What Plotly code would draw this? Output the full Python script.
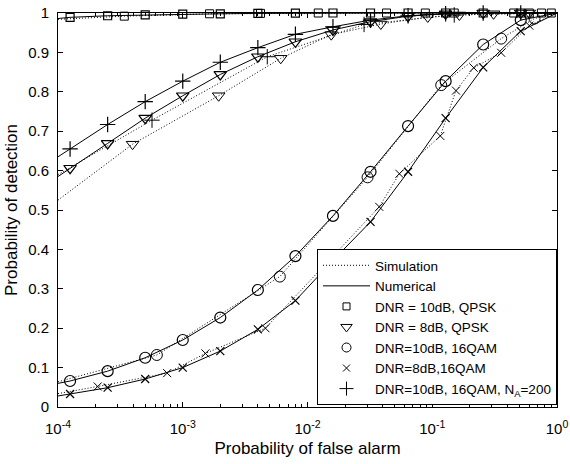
import plotly.graph_objects as go

# ---------------- data ----------------
# numerical curves (solid), markers on all interior points
num_pfa = [1e-4, 1.25e-4, 2.5e-4, 5e-4, 1e-3, 2e-3, 4e-3, 8e-3, 1.6e-2,
           3.2e-2, 6.4e-2, 0.128, 0.256, 0.512, 1.0]
sq_num = [0.986, 0.989, 0.993, 0.995, 0.997, 0.998, 0.999, 0.9995, 1.0,
          1.0, 1.0, 1.0, 1.0, 1.0, 1.0]
tri_num = [0.585, 0.606, 0.669, 0.733, 0.790, 0.844, 0.889, 0.927, 0.957,
           0.978, 0.992, 0.998, 1.0, 1.0, 1.0]
circ_num = [0.060, 0.066, 0.091, 0.125, 0.170, 0.227, 0.297, 0.383, 0.485,
            0.597, 0.713, 0.827, 0.920, 0.982, 1.0]
x_num = [0.028, 0.033, 0.049, 0.071, 0.100, 0.142, 0.197, 0.270, 0.372,
         0.470, 0.597, 0.733, 0.862, 0.954, 1.0]
plus_num = [0.635, 0.655, 0.717, 0.775, 0.827, 0.875, 0.912, 0.946, 0.965,
            0.982, 0.993, 0.998, 1.0, 1.0, 1.0]

# simulation curves (dotted), markers on all interior points
sq_sim_pfa = [1e-4, 3.4e-4, 1.64e-3, 4.2e-3, 0.0122, 0.043, 0.088, 0.15,
              0.45, 0.6, 0.75, 0.9, 1.0]
sq_sim = [0.984, 0.992, 0.998, 0.999, 1.0, 1.0, 1.0, 1.0,
          1.0, 1.0, 1.0, 1.0, 1.0]
tri_sim_pfa = [1e-4, 3.96e-4, 1.94e-3, 6.1e-3, 0.0155, 0.0387, 0.092, 0.165,
               0.31, 0.6, 1.0]
tri_sim = [0.525, 0.667, 0.790, 0.885, 0.945, 0.972, 0.990, 0.995,
           0.998, 1.0, 1.0]
circ_sim_pfa = [1e-4, 6.2e-4, 6.0e-3, 0.0303, 0.118, 0.357, 0.66, 1.0]
circ_sim = [0.064, 0.132, 0.331, 0.583, 0.817, 0.935, 0.986, 1.0]
x_sim_pfa = [1e-4, 2.08e-4, 7.5e-4, 1.52e-3, 4.6e-3, 0.0376, 0.0545, 0.116,
             0.155, 0.215, 0.357, 0.60, 1.0]
x_sim = [0.034, 0.052, 0.086, 0.136, 0.200, 0.508, 0.592, 0.688,
         0.803, 0.861, 0.899, 0.968, 1.0]
plus_sim_pfa = [1e-4, 5.67e-4, 4.76e-3, 0.0284, 0.15, 1.0]
plus_sim = [0.59, 0.728, 0.889, 0.971, 0.995, 1.0]

series_names = ["DNR = 10dB, QPSK", "DNR = 8dB, QPSK", "DNR=10dB, 16QAM",
                "DNR=8dB,16QAM", "DNR=10dB, 16QAM, N<sub>A</sub>=200"]

x_tickvals = [1e-4, 1e-3, 1e-2, 1e-1, 1]
x_ticktext = ["10<sup>-4</sup>", "10<sup>-3</sup>", "10<sup>-2</sup>",
              "10<sup>-1</sup>", "10<sup>0</sup>"]
y_tickvals = [0, 0.1, 0.2, 0.3, 0.4, 0.5, 0.6, 0.7, 0.8, 0.9, 1]
y_ticktext = ["0", "0.1", "0.2", "0.3", "0.4", "0.5", "0.6", "0.7", "0.8", "0.9", "1"]

# ---------------- figure ----------------
FONT = "Liberation Sans, Arial, sans-serif"
symbols = ["square-open", "triangle-down-open", "circle-open", "x-thin-open", "cross-thin-open"]
sizes = [8, 11, 11, 8, 11]
leg_sizes = [7, 10, 9, 7, 10]
DOT = "1px,2px"

num_sets = [sq_num, tri_num, circ_num, x_num, plus_num]
sim_sets = [(sq_sim_pfa, sq_sim), (tri_sim_pfa, tri_sim), (circ_sim_pfa, circ_sim),
            (x_sim_pfa, x_sim), (plus_sim_pfa, plus_sim)]

fig = go.Figure()

for (sx, sy) in sim_sets:
    fig.add_trace(go.Scatter(x=sx, y=sy, mode="lines", showlegend=False,
                             line=dict(color="black", width=1, dash=DOT)))
for ny in num_sets:
    fig.add_trace(go.Scatter(x=num_pfa, y=ny, mode="lines", showlegend=False,
                             line=dict(color="black", width=1)))
for i, (sx, sy) in enumerate(sim_sets):
    fig.add_trace(go.Scatter(x=sx[1:-1], y=sy[1:-1], mode="markers", showlegend=False,
                             cliponaxis=False,
                             marker=dict(symbol=symbols[i], size=sizes[i], color="black",
                                         line=dict(color="black", width=1))))
for i, ny in enumerate(num_sets):
    fig.add_trace(go.Scatter(x=num_pfa[1:-1], y=ny[1:-1], mode="markers", showlegend=False,
                             cliponaxis=False,
                             marker=dict(symbol=symbols[i], size=sizes[i], color="black",
                                         line=dict(color="black", width=1.2))))

# legend entries
fig.add_trace(go.Scatter(x=[None], y=[None], mode="lines", name="Simulation",
                         line=dict(color="black", width=1, dash=DOT)))
fig.add_trace(go.Scatter(x=[None], y=[None], mode="lines", name="Numerical",
                         line=dict(color="black", width=1)))
for i, nm in enumerate(series_names):
    fig.add_trace(go.Scatter(x=[None], y=[None], mode="markers", name=nm,
                             marker=dict(symbol=symbols[i], size=leg_sizes[i], color="black",
                                         line=dict(color="black", width=1))))

axis_common = dict(showline=True, linecolor="black", linewidth=1, mirror="allticks",
                   ticks="inside", ticklen=5, tickcolor="black", tickwidth=1,
                   showgrid=False, zeroline=False, automargin=False,
                   tickfont=dict(family=FONT, size=15, color="black"))

fig.update_xaxes(type="log", range=[-4, 0], tickmode="array",
                 tickvals=x_tickvals, ticktext=x_ticktext, ticklabelstandoff=8,
                 minor=dict(ticks="inside", ticklen=3, tickcolor="black", tickwidth=1,
                            tickmode="array",
                            tickvals=[k * 10.0 ** d for d in range(-4, 0) for k in range(2, 10)]),
                 title=dict(text="Probability of false alarm", standoff=6,
                            font=dict(family=FONT, size=17, color="black")),
                 **axis_common)
fig.update_yaxes(range=[0, 1], tickmode="array", tickvals=y_tickvals, ticktext=y_ticktext,
                 ticklabelstandoff=5,
                 title=dict(text="Probability of detection", standoff=6,
                            font=dict(family=FONT, size=17, color="black")),
                 **axis_common)

fig.update_layout(
    width=570, height=464,
    margin=dict(l=58, r=13, t=13, b=57),
    paper_bgcolor="white", plot_bgcolor="white",
    font=dict(family=FONT, color="black"),
    legend=dict(x=1, xanchor="right", y=0.005, yanchor="bottom",
                bgcolor="white", bordercolor="black", borderwidth=1,
                font=dict(family=FONT, size=13.5, color="black"),
                itemwidth=47, tracegroupgap=0),
)

fig.write_html("out.html")
